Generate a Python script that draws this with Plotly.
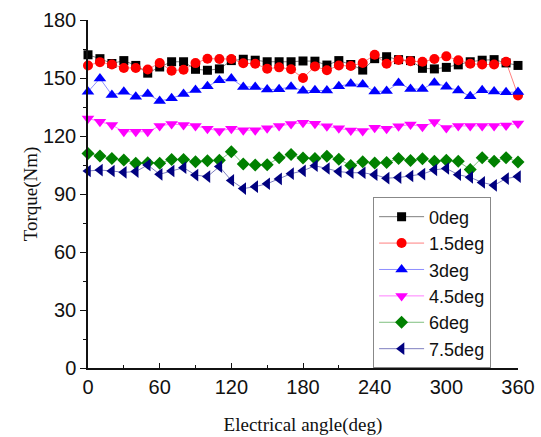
import plotly.graph_objects as go

angle = list(range(0, 361, 10))

t_0deg = [162, 160, 157.5, 159, 156.5, 152.5, 155.7, 158.4, 158.4, 154.5,
          154, 154.7, 159, 159.7, 159.2, 158.4, 158.4, 158.4, 158.8, 158.7,
          156.7, 159, 157, 154.1, 160, 161, 159.5, 159, 155, 154.7,
          155.5, 156.8, 158.4, 159.2, 159.5, 157.8, 156.5]
t_1_5deg = [156.5, 158.2, 157, 155.2, 155.2, 154.4, 157.8, 153.8, 154.3, 157.7,
            160, 159.8, 159.8, 157.6, 157.4, 154.8, 155.5, 154.5, 150, 156,
            154, 156.5, 156.2, 157.8, 162, 157.4, 159.3, 158.7, 158.4, 159.8,
            161.2, 159.2, 157.4, 157, 157, 158.4, 141]
t_3deg = [142.9, 149.8, 141.2, 142.9, 140.3, 141.7, 138.1, 139.5, 141.7, 143.8,
          145.7, 148.8, 149.7, 145.4, 145.4, 144, 144.2, 145.5, 143.4, 143.6,
          143.5, 145.7, 147, 146.6, 143, 143.3, 147.4, 144.3, 144.3, 147.6,
          145.5, 143.5, 140.6, 143.6, 143, 142.6, 142.7]
t_4_5deg = [129.1, 127.4, 125.7, 122.2, 122.2, 122.2, 125.2, 126.2, 125.7, 125.2,
            123.8, 122.6, 123.8, 123, 123, 124, 125.2, 126.2, 126.8, 126.3,
            125, 124, 122.9, 122.6, 124.3, 123.8, 125, 126, 124.8, 127.2,
            124.2, 125.2, 125.2, 125.2, 125.2, 125.4, 126.5]
t_6deg = [111, 109.7, 108.4, 107.6, 105.9, 106.2, 105.9, 107.9, 107.9, 106.7,
          107.2, 107.4, 111.9, 105.5, 105, 105.1, 108.7, 110.4, 108.6, 108.4,
          109.5, 108, 104.7, 106.7, 106, 106.3, 108.4, 107.3, 108.2, 106.9,
          107.5, 106.9, 102.7, 108.8, 107, 108.8, 106.6]
t_7_5deg = [101.9, 102.4, 101.9, 101.2, 101.6, 105, 100.2, 101.9, 103.6, 99.8,
            99, 104.2, 97, 92.8, 93.8, 95.3, 97.8, 100.5, 102, 104.6,
            103.2, 101.6, 101, 101, 100, 98.2, 98.5, 99.3, 100.3, 102.5,
            103.2, 100, 98.6, 96, 94.5, 98, 99]

series_names = ["0deg", "1.5deg", "3deg", "4.5deg", "6deg", "7.5deg"]
series_values = [t_0deg, t_1_5deg, t_3deg, t_4_5deg, t_6deg, t_7_5deg]
colors = ["#000000", "#ff0000", "#0000ff", "#ff00ff", "#008000", "#000080"]
line_colors = ["rgba(0,0,0,0.5)", "rgba(255,0,0,0.5)", "rgba(0,0,255,0.45)",
               "rgba(255,0,255,0.5)", "rgba(0,128,0,0.5)", "rgba(0,0,128,0.5)"]
symbols = ["square", "circle", "triangle-up", "triangle-down", "diamond", "triangle-left"]
sizes = [9, 10, 11, 11, 10, 11]

fig = go.Figure()
for name, vals, c, lc, s, sz in zip(series_names, series_values, colors, line_colors, symbols, sizes):
    fig.add_trace(go.Scatter(
        x=angle, y=vals, name=name, mode="lines+markers",
        line=dict(color=lc, width=1),
        marker=dict(color=c, symbol=s, size=sz, line=dict(width=0)),
        cliponaxis=False,
    ))

tickfont = dict(family="Liberation Sans, Arial", size=20, color="#111")
titlefont = dict(family="Liberation Serif, Times New Roman", size=19, color="#111")

fig.update_layout(
    width=541, height=437,
    margin=dict(l=88, r=23, t=20, b=69),
    paper_bgcolor="white", plot_bgcolor="white",
    showlegend=True,
    legend=dict(
        x=0.663, y=0.49, xanchor="left", yanchor="top",
        bgcolor="white", bordercolor="#888", borderwidth=1,
        font=dict(family="Liberation Sans, Arial", size=18, color="#111"),
        tracegroupgap=0, itemwidth=45,
    ),
    xaxis=dict(
        range=[0, 360], tickvals=[0, 60, 120, 180, 240, 300, 360],
        ticks="inside", ticklen=5, tickwidth=1.2, tickcolor="#111",
        minor=dict(tickvals=[30, 90, 150, 210, 270, 330], ticks="inside", ticklen=3, tickcolor="#111"),
        showline=True, linecolor="#111", linewidth=1.5, showgrid=False, zeroline=False,
        tickfont=tickfont, automargin=False,
        title=dict(text="Electrical angle(deg)", font=titlefont, standoff=21),
    ),
    yaxis=dict(
        range=[0, 180], tickvals=[0, 30, 60, 90, 120, 150, 180],
        ticks="outside", ticklen=6, tickwidth=1.2, tickcolor="#111",
        minor=dict(tickvals=[15, 45, 75, 105, 135, 165], ticks="outside", ticklen=3, tickcolor="#111"),
        showline=True, linecolor="#111", linewidth=1.5, showgrid=False, zeroline=False,
        tickfont=tickfont, automargin=False,
        title=dict(text="Torque(Nm)", font=titlefont, standoff=0),
    ),
)

fig.write_html("out.html", config={"displayModeBar": False},
               post_script="document.body.style.margin='0';document.body.style.overflow='hidden';")
